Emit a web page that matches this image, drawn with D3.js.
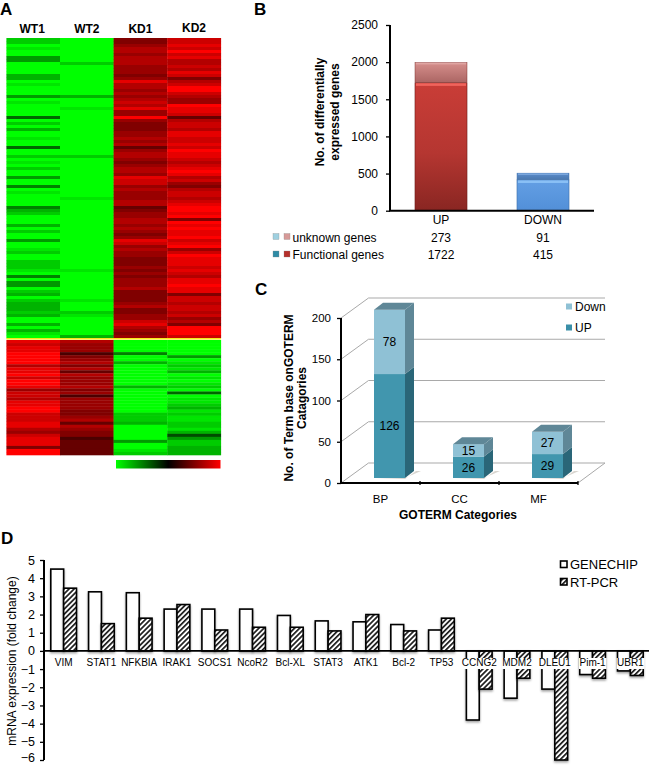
<!DOCTYPE html>
<html><head><meta charset="utf-8">
<style>
html,body{margin:0;padding:0;background:#fff}
svg{display:block}
text{font-family:"Liberation Sans",Arial,sans-serif;fill:#000}
</style>
<script src="https://cdn.jsdelivr.net/npm/d3@7/dist/d3.min.js"></script>
</head><body><svg id="c" width="650" height="765"></svg>
<script>
// Panel A: one digit per row; 0 = full saturation, higher = darker
const heatSamples = ["WT1","WT2","KD1","KD2"];
const heatTopSign = [-1,-1,1,1];
const heatTopWT1 = "2201004400"+"0033010004"+"0100006020"+"3001006002"+"0102004005"+"0100005320"+"0030200400"+"1200222105"+"0440230233"+"3230030310";
const heatTopWT2 = "0000000020"+"0000000003"+"0001000000"+"0000000002"+"0000000000"+"0001000000"+"0000000000"+"0000000100"+"0000000100"+"0210000003";
const heatTopKD1 = "5543343334"+"4454133434"+"3231440455"+"5443436433"+"4543341224"+"3444336544"+"3343454124"+"3445554545"+"4443555543"+"5544213454";
const heatTopKD2 = "2212021332"+"3125320023"+"4401126322"+"3112212011"+"2321013245"+"3223210010"+"5010110210"+"4201112123"+"1101152232"+"2324350002";
const heatBotWT1 = "1211000031"+"1020014223"+"1100222113"+"42111500";
const heatBotWT2 = "3444754353"+"6344435474"+"4445543634"+"55766666";
const heatBotKD1 = "0000500300"+"0000030000"+"0000222300"+"00040012";
const heatBotKD2 = "0000040121"+"3010120601"+"1231211221"+"37422333";

// Panel B
const bCats = ["UP","DOWN"];
const bFunctional = [1722,415];
const bUnknown = [273,91];
const bTicks = [0,500,1000,1500,2000,2500];

// Panel C
const cCats = ["BP","CC","MF"];
const cUp = [126,26,29];
const cDown = [78,15,27];
const cTicks = [0,50,100,150,200];

// Panel D
const dGenes = ["VIM","STAT1","NFKBIA","IRAK1","SOCS1","NcoR2","Bcl-XL","STAT3","ATK1","Bcl-2","TP53","CCNG2","MDM2","DLEU1","Pim-1","UBR1"];
const dGenechip = [4.5,3.25,3.2,2.3,2.3,2.3,1.95,1.65,1.6,1.45,1.15,-3.8,-2.6,-2.1,-1.3,-1.1];
const dRtpcr = [3.45,1.5,1.8,2.55,1.15,1.3,1.3,1.1,2.0,1.1,1.8,-2.1,-1.5,-6,-1.5,-1.35];
const dTicks = [5,4,3,2,1,0,-1,-2,-3,-4,-5,-6];

const svg = d3.select("#c");
const defs = svg.append("defs");
function grad(id,stops){
  const g=defs.append("linearGradient").attr("id",id).attr("x1",0).attr("x2",0).attr("y1",0).attr("y2",1);
  stops.forEach(s=>g.append("stop").attr("offset",s[0]).attr("stop-color",s[1]));
}
grad("gFunc",[[0,"#c93d37"],[.55,"#b53631"],[1,"#892622"]]);
grad("gUnk",[[0,"#d68f8c"],[1,"#ab6563"]]);
grad("gDownF",[[0,"#639fe4"],[1,"#528fd8"]]);
grad("gDownU",[[0,"#5a8ccb"],[1,"#4b78ae"]]);
const hatch=defs.append("pattern").attr("id","hatch").attr("patternUnits","userSpaceOnUse")
  .attr("width",3.6).attr("height",3.6).attr("patternTransform","rotate(45)");
hatch.append("rect").attr("width",3.6).attr("height",3.6).attr("fill","#fff");
hatch.append("rect").attr("width",1.7).attr("height",3.6).attr("fill","#1a1a1a");
const shadow=defs.append("filter").attr("id","sh").attr("x","-20%").attr("y","-20%").attr("width","140%").attr("height","140%");
shadow.append("feDropShadow").attr("dx",0).attr("dy",1.5).attr("stdDeviation",1).attr("flood-color","#000").attr("flood-opacity",.4);
const soft=defs.append("filter").attr("id","soft").attr("x","0%").attr("y","-2%").attr("width","100%").attr("height","104%");
soft.append("feGaussianBlur").attr("stdDeviation","0 0.55");

const panelLabel=(t,x,y)=>svg.append("text").attr("x",x).attr("y",y).attr("font-size",17).attr("font-weight","bold").text(t);
panelLabel("A",0,15);panelLabel("B",254,15);panelLabel("C",255,295);panelLabel("D",1,544);

/* ---------- A ---------- */
const heatColor=d3.scaleLinear().domain([-1,0,1]).range(["#00ff00","#000000","#ff0000"]);
const hx=d3.scaleBand().domain(heatSamples).range([6.4,220.8]);
const blocks=[
 {cols:[heatTopWT1,heatTopWT2,heatTopKD1,heatTopKD2],sign:heatTopSign,range:[38,338]},
 {cols:[heatBotWT1,heatBotWT2,heatBotKD1,heatBotKD2],sign:heatTopSign.map(s=>-s),range:[340,455]}
];
const gA=svg.append("g");
blocks.forEach(b=>{
  const ry=d3.scaleBand().domain(d3.range(b.cols[0].length)).range(b.range);
  heatSamples.forEach((s,ci)=>{
    gA.append("g").attr("filter","url(#soft)").selectAll("rect").data(Array.from(b.cols[ci]).map(Number)).join("rect")
      .attr("x",hx(s)).attr("width",hx.bandwidth()+.3)
      .attr("y",(d,i)=>ry(i)).attr("height",ry.bandwidth()+.3)
      .attr("fill",d=>heatColor(b.sign[ci]*(1-d*0.1)));
  });
});
gA.append("rect").attr("x",hx.range()[0]).attr("width",hx.range()[1]-hx.range()[0]).attr("y",338).attr("height",1.6).attr("fill","#f4e81a");
const labY=[29,29,29,28];
svg.append("g").selectAll("text").data(heatSamples).join("text")
  .attr("x",d=>hx(d)+hx.bandwidth()/2+(d==="WT1"?-1:0)).attr("y",(d,i)=>labY[i]+4)
  .attr("text-anchor","middle").attr("font-size",12).attr("font-weight","bold").text(d=>d);
const cbStops=d3.range(-1,1.01,0.25);
const cb=defs.append("linearGradient").attr("id","cb");
cbStops.forEach(v=>cb.append("stop").attr("offset",(v+1)/2).attr("stop-color",heatColor(v)));
svg.append("rect").attr("x",116).attr("y",460).attr("width",104.5).attr("height",8.5).attr("fill","url(#cb)");

/* ---------- B ---------- */
const bx=d3.scaleBand().domain(bCats).range([390,594]).paddingInner(.49).paddingOuter(.245);
const by=d3.scaleLinear().domain([0,2500]).range([210.7,25]);
const bFills=[["gFunc","gUnk","#f0645c","#e0a5a2"],["gDownF","gDownU","#8ac0f5","#7aa6dc"]];
bCats.forEach((c,i)=>{
  const x=bx(c),w=bx.bandwidth(),f=bFunctional[i],u=bUnknown[i];
  const yF=by(f),yT=by(f+u),edge=i===0?"#6e1d1a":"#3f6fa8";
  svg.append("rect").attr("x",x).attr("width",w).attr("y",yF).attr("height",by(0)-yF).attr("fill",`url(#${bFills[i][0]})`).attr("stroke",edge).attr("stroke-width",.6);
  svg.append("rect").attr("x",x).attr("width",w).attr("y",yT).attr("height",yF-yT).attr("fill",`url(#${bFills[i][1]})`).attr("stroke",edge).attr("stroke-width",.4);
  svg.append("rect").attr("x",x+1).attr("width",w-2).attr("y",yF+.5).attr("height",2.6).attr("fill",bFills[i][2]);
  svg.append("rect").attr("x",x+1).attr("width",w-2).attr("y",yT+.3).attr("height",1.6).attr("fill",bFills[i][3]);
});
const bAxis=svg.append("g").attr("transform","translate(390,0)").call(d3.axisLeft(by).tickValues(bTicks).tickSize(4).tickPadding(8).tickFormat(d3.format("d")));
bAxis.selectAll("text").attr("font-size",12).style("font-family",'"Liberation Sans"');
bAxis.selectAll("line").attr("stroke","#000").attr("stroke-width",1.3);
bAxis.select(".domain").attr("stroke","#000").attr("stroke-width",2).attr("d",`M0,${by(2500)}V${by(0)}`);
svg.append("line").attr("x1",389).attr("x2",594).attr("y1",by(0)).attr("y2",by(0)).attr("stroke","#000").attr("stroke-width",2);
[["No. of differentially",323.5],["expressed genes",339]].forEach(t=>{
  svg.append("text").attr("transform",`translate(${t[1]},112) rotate(-90)`).attr("text-anchor","middle").attr("font-size",12).attr("font-weight","bold").text(t[0]);
});
const cellY=[224,241.5,259];
bCats.forEach((c,i)=>{
  [c,bUnknown[i],bFunctional[i]].forEach((v,r)=>{
    svg.append("text").attr("x",bx(c)+bx.bandwidth()/2).attr("y",cellY[r]).attr("text-anchor","middle").attr("font-size",12).text(v);
  });
});
[["unknown genes",241.5,"#9fd0e0","#d79a98"],["Functional genes",259,"#2f8ba5","#b5302b"]].forEach(l=>{
  svg.append("rect").attr("x",273).attr("y",l[1]-8).attr("width",6).attr("height",6).attr("fill",l[2]).attr("stroke","#888").attr("stroke-width",.3);
  svg.append("rect").attr("x",284).attr("y",l[1]-8).attr("width",6).attr("height",6).attr("fill",l[3]).attr("stroke","#888").attr("stroke-width",.3);
  svg.append("text").attr("x",292.5).attr("y",l[1]).attr("font-size",12).text(l[0]);
});

/* ---------- C ---------- */
const cy=d3.scaleLinear().domain([0,200]).range([483,318]);
const cx=d3.scaleBand().domain(cCats).range([341,578]);
const backDx=27.5,backDy=-20,backEnd=605;
const gridG=svg.append("g").attr("fill","none").attr("stroke","#a9a9a9").attr("stroke-width",1);
cTicks.forEach(v=>{
  const y=cy(v);
  gridG.append("path").attr("d",`M341,${y}L${341+backDx},${y+backDy}H${backEnd}`);
});
gridG.append("path").attr("d",`M${backEnd},${cy(0)+backDy}L578,${cy(0)}`);
const depth=[9,-7],front=-5,bw=31,segsC=[
 {vals:cUp,base:()=>0,front:"#4196ae",side:"#2a6678"},
 {vals:cDown,base:i=>cUp[i],front:"#8fc1d5",side:"#5f8797"}
];
cCats.forEach((c,i)=>{
  const xc=cx(c)+cx.bandwidth()/2+9,x0=xc-bw/2,x1=x0+bw;
  const total=cUp[i]+cDown[i];
  svg.append("path").attr("d",`M${x0+2},${cy(0)+front}H${x1}L${x1+depth[0]+7},${cy(0)+front+depth[1]}L${x1+depth[0]+2},${cy(0)+front+depth[1]}L${x1},${cy(0)+front+1}Z`).attr("fill","#c9c3bb").attr("opacity",.7);
  segsC.forEach(s=>{
    const yb=cy(s.base(i))+front,yt=cy(s.base(i)+s.vals[i])+front;
    svg.append("path").attr("d",`M${x1},${yb}L${x1+depth[0]},${yb+depth[1]}V${yt+depth[1]}L${x1},${yt}Z`).attr("fill",s.side);
    svg.append("rect").attr("x",x0).attr("width",bw).attr("y",yt).attr("height",yb-yt).attr("fill",s.front);
    svg.append("text").attr("x",xc).attr("y",(yb+yt)/2+4.3).attr("text-anchor","middle").attr("font-size",12).text(s.vals[i]);
  });
  const yt=cy(total)+front;
  svg.append("path").attr("d",`M${x0},${yt}H${x1}L${x1+depth[0]},${yt+depth[1]}H${x0+depth[0]}Z`).attr("fill","#5f8797");
});
const cAxis=svg.append("g").attr("transform","translate(341,0)").call(d3.axisLeft(cy).tickValues(cTicks).tickSize(4).tickPadding(6));
cAxis.selectAll("text").attr("font-size",11.5).style("font-family",'"Liberation Sans"');
cAxis.selectAll("line").attr("stroke","#000").attr("stroke-width",1.3);
cAxis.select(".domain").attr("stroke","#000").attr("stroke-width",2).attr("d",`M0,${cy(200)}V${cy(0)}`);
const cxAxis=svg.append("g").attr("transform","translate(0,483)");
cxAxis.append("line").attr("x1",340).attr("x2",578).attr("stroke","#000").attr("stroke-width",2);
cxAxis.selectAll("line.t").data(cCats).join("line").attr("class","t")
  .attr("x1",d=>cx(d)+cx.bandwidth()).attr("x2",d=>cx(d)+cx.bandwidth()).attr("y1",-2).attr("y2",2).attr("stroke","#000").attr("stroke-width",1.3);
svg.append("g").selectAll("text").data(cCats).join("text").attr("x",d=>cx(d)+cx.bandwidth()/2).attr("y",502.5)
  .attr("text-anchor","middle").attr("font-size",11.5).text(d=>d);
svg.append("text").attr("x",458).attr("y",519).attr("text-anchor","middle").attr("font-size",12).attr("font-weight","bold").text("GOTERM Categories");
[["No. of Term base onGOTERM",292.5],["Catagories",305.5]].forEach(t=>{
  svg.append("text").attr("transform",`translate(${t[1]},398) rotate(-90)`).attr("text-anchor","middle").attr("font-size",12).attr("font-weight","bold").text(t[0]);
});
[["Down",306,"#8fc1d5"],["UP",327,"#3a8fa8"]].forEach(l=>{
  svg.append("rect").attr("x",566).attr("y",l[1]-2.5).attr("width",6).attr("height",6).attr("fill",l[2]);
  svg.append("text").attr("x",575).attr("y",l[1]+4.5).attr("font-size",12).text(l[0]);
});

/* ---------- D ---------- */
const dy=d3.scaleLinear().domain([-6,5]).range([760,560]);
const dx=d3.scaleBand().domain(dGenes).range([44,650]).paddingInner(.32).paddingOuter(.18);
const ds=d3.scaleBand().domain([0,1]).range([0,dx.bandwidth()]);
[dGenechip,dRtpcr].forEach((vals,si)=>{
  svg.append("g").attr("filter","url(#sh)").selectAll("rect").data(dGenes).join("rect")
    .attr("x",d=>dx(d)+ds(si)).attr("width",ds.bandwidth())
    .attr("y",(d,i)=>dy(Math.max(0,vals[i]))).attr("height",(d,i)=>Math.abs(dy(vals[i])-dy(0)))
    .attr("fill",si?"url(#hatch)":"#fff").attr("stroke","#000").attr("stroke-width",1.6);
});
const labs=svg.append("g").selectAll("g").data(dGenes).join("g");
labs.each(function(d,i){
  const g=d3.select(this),cxx=dx(d)+dx.bandwidth()/2;
  const t=g.append("text").attr("x",cxx).attr("y",666.3).attr("text-anchor","middle").attr("font-size",10).text(d);
  const b=t.node().getBBox();
  g.insert("rect","text").attr("x",b.x-.5).attr("y",658).attr("width",b.width+1).attr("height",11).attr("fill","#fff");
});
const dAxis=svg.append("g").attr("transform","translate(44,0)").call(d3.axisLeft(dy).tickValues(dTicks).tickSize(4).tickPadding(5));
dAxis.selectAll("text").attr("font-size",12.5).style("font-family",'"Liberation Sans"')
  .attr("y",d=>d===-6?-2.5:0);
dAxis.selectAll("line").attr("stroke","#000").attr("stroke-width",1.3);
dAxis.select(".domain").attr("stroke","#000").attr("stroke-width",2).attr("d",`M0,${dy(5)}V${dy(-6)}`);
svg.append("line").attr("x1",44).attr("x2",649).attr("y1",dy(0)).attr("y2",dy(0)).attr("stroke","#000").attr("stroke-width",1.6);
svg.append("text").attr("transform","translate(16,661) rotate(-90)").attr("text-anchor","middle").attr("font-size",12).text("mRNA expression (fold change)");
[["GENECHIP",564.5,"#fff"],["RT-PCR",582,"url(#hatch)"]].forEach(l=>{
  svg.append("rect").attr("x",560.5).attr("y",l[1]-3.5).attr("width",6.5).attr("height",6.5).attr("fill",l[2]).attr("stroke","#000").attr("stroke-width",1.6);
  svg.append("text").attr("x",570).attr("y",l[1]+4.5).attr("font-size",13).text(l[0]);
});
</script></body></html>
